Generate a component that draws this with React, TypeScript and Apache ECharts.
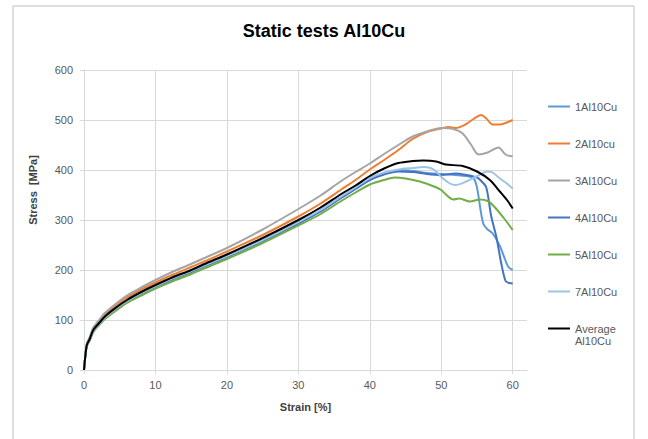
import React, { useEffect, useRef } from "react";
import * as echarts from "echarts";

// Strain [%] points shared by the early (hardening) part of every curve
const baseStrain = [0, 0.2, 0.4, 0.8, 1.3, 2, 3, 4.5, 6, 8, 10, 12.5, 15, 17.5, 20, 25, 30, 33, 36, 38, 40];

// Stress [MPa] on the early part
const s1Early = [0, 30, 49, 61, 78, 90, 105, 122, 137, 153, 167, 183, 197, 212, 227, 259, 295, 318, 346, 364, 383];
const s2Early = [0, 30, 52, 64, 83, 95, 112, 129, 145, 161, 175, 191, 206, 221, 237, 270, 307, 332, 361, 380, 401];
const s3Early = [0, 31, 53, 66, 85, 98, 115, 133, 149, 165, 180, 197, 212, 228, 244, 281, 322, 348, 378, 396, 413];
const s4Early = [0, 30, 49, 60, 77, 89, 104, 121, 136, 152, 166, 182, 196, 211, 226, 258, 293, 316, 344, 362, 380];
const s5Early = [0, 29, 48, 59, 76, 88, 103, 119, 134, 149, 163, 178, 192, 207, 222, 254, 289, 311, 338, 355, 371];
const s7Early = [0, 30, 49, 61, 78, 90, 106, 123, 138, 154, 168, 184, 198, 213, 228, 260, 296, 319, 347, 365, 384];
const avgEarly = [0, 30, 50, 62, 80, 92, 108, 125, 140, 156, 170, 186, 200, 216, 231, 264, 300, 324, 352, 369, 388];

// Late part (necking / fracture), strain and stress
const s1LateStrain = [42, 44, 46, 48, 50, 52, 53.5, 54.5, 55, 55.5, 55.9, 56.5, 57.2, 58.2, 58.8, 59.4, 60];
const s1LateStress = [393, 400, 398, 394, 392, 390, 388, 384, 365, 320, 292, 281, 273, 248, 226, 206, 200];

const s2LateStrain = [42, 44, 46, 48, 50, 51, 52, 53.5, 54.5, 55.6, 56.3, 57.2, 58.2, 59, 60];
const s2LateStress = [420, 440, 462, 476, 483, 486, 484, 492, 502, 510, 503, 491, 491, 494, 500];

const s3LateStrain = [42, 44, 46, 48, 50, 51.7, 53, 54.2, 55.2, 56.5, 58, 59, 60];
const s3LateStress = [432, 450, 467, 477, 484, 482, 473, 450, 431, 435, 445, 431, 427];

const s4LateStrain = [42, 44, 46, 48, 50, 52, 53.5, 55, 55.6, 56.3, 57, 57.7, 58.4, 59, 59.5, 60];
const s4LateStress = [391, 397, 396, 392, 390, 393, 390, 385, 378, 365, 307, 267, 213, 178, 174, 173];

const s5LateStrain = [42, 43.5, 45, 47, 49, 50, 50.5, 51.7, 52.5, 54, 55.4, 56.5, 57.4, 58.8, 60];
const s5LateStress = [380, 385, 383, 377, 367, 360, 353, 341, 343, 337, 341, 338, 327, 303, 280];

const s7LateStrain = [42, 44, 46, 47.5, 48.5, 49.3, 50, 51.2, 52, 53.5, 54.9, 56.5, 57.2, 58.2, 59, 60];
const s7LateStress = [395, 401, 404, 406, 404, 397, 386, 373, 370, 377, 387, 397, 395, 383, 375, 363];

const avgLateStrain = [42, 44, 46, 47.5, 49.3, 50.6, 53, 55, 56.8, 58.2, 59.2, 60];
const avgLateStress = [403, 414, 418, 419, 417, 411, 408, 397, 380, 357, 340, 323];

const seriesNames = ["1Al10Cu", "2Al10cu", "3Al10Cu", "4Al10Cu", "5Al10Cu", "7Al10Cu", "Average Al10Cu"];
const seriesColors = ["#5B9BD5", "#ED7D31", "#A5A5A5", "#4472C4", "#70AD47", "#9DC3E6", "#000000"];

const xTicks = { min: 0, max: 62, interval: 10 };
const yTicks = { min: 0, max: 600, interval: 100 };

function zip(xs: number[], ys: number[]): [number, number][] {
  return xs.map((x, i) => [x, ys[i]]);
}

const seriesData: [number, number][][] = [
  zip(baseStrain.concat(s1LateStrain), s1Early.concat(s1LateStress)),
  zip(baseStrain.concat(s2LateStrain), s2Early.concat(s2LateStress)),
  zip(baseStrain.concat(s3LateStrain), s3Early.concat(s3LateStress)),
  zip(baseStrain.concat(s4LateStrain), s4Early.concat(s4LateStress)),
  zip(baseStrain.concat(s5LateStrain), s5Early.concat(s5LateStress)),
  zip(baseStrain.concat(s7LateStrain), s7Early.concat(s7LateStress)),
  zip(baseStrain.concat(avgLateStrain), avgEarly.concat(avgLateStress)),
];

const FONT = "'Liberation Sans', Arial, sans-serif";

export default function App() {
  const ref = useRef<HTMLDivElement>(null);
  useEffect(() => {
    if (!ref.current) return;
    const chart = echarts.init(ref.current, undefined, { renderer: "svg" });
    chart.setOption({
      animation: false,
      backgroundColor: "#ffffff",
      title: {
        text: "Static tests Al10Cu",
        left: "center",
        top: 22,
        padding: 0,
        textStyle: { fontFamily: FONT, fontSize: 18, fontWeight: "bold", color: "#000000" },
      },
      graphic: [
        {
          type: "rect",
          shape: { x: 13, y: 6, width: 621, height: 460 },
          style: { fill: "none", stroke: "#BFBFBF", lineWidth: 1 },
          silent: true,
        },
        {
          type: "text",
          x: 33,
          y: 190,
          rotation: Math.PI / 2,
          style: {
            text: "Stress  [MPa]",
            align: "center",
            verticalAlign: "middle",
            fontFamily: FONT,
            fontSize: 11,
            fontWeight: "bold",
            fill: "#404040",
          },
        },
        {
          type: "text",
          x: 575,
          y: 341,
          style: {
            text: "Al10Cu",
            align: "left",
            verticalAlign: "middle",
            fontFamily: FONT,
            fontSize: 11,
            fill: "#595959",
          },
        },
      ],
      legend: {
        orient: "vertical",
        left: 548,
        top: 100,
        padding: 0,
        icon: "rect",
        itemWidth: 22,
        itemHeight: 2,
        itemGap: 24,
        textStyle: { fontFamily: FONT, fontSize: 11, color: "#595959", lineHeight: 13 },
        formatter: (name: string) => (name === "Average Al10Cu" ? "Average" : name),
        data: seriesNames,
      },
      grid: { left: 84, right: 121, top: 70, bottom: 69, containLabel: false },
      xAxis: {
        type: "value",
        min: xTicks.min,
        max: xTicks.max,
        interval: xTicks.interval,
        name: "Strain [%]",
        nameLocation: "middle",
        nameGap: 31,
        nameTextStyle: { fontFamily: FONT, fontSize: 11, fontWeight: "bold", color: "#404040" },
        axisLine: { show: true, lineStyle: { color: "#D9D9D9" } },
        axisTick: { show: true, length: 4, lineStyle: { color: "#D9D9D9" } },
        axisLabel: { fontFamily: FONT, fontSize: 11, color: "#595959", margin: 9, showMaxLabel: false },
        splitLine: { show: true, showMaxLine: false, lineStyle: { color: "#D9D9D9" } },
      },
      yAxis: {
        type: "value",
        min: yTicks.min,
        max: yTicks.max,
        interval: yTicks.interval,
        axisLine: { show: true, lineStyle: { color: "#D9D9D9" } },
        axisTick: { show: true, length: 4, lineStyle: { color: "#D9D9D9" } },
        axisLabel: { fontFamily: FONT, fontSize: 11, color: "#595959", margin: 11 },
        splitLine: { show: true, lineStyle: { color: "#D9D9D9" } },
      },
      series: seriesNames.map((name, i) => ({
        name,
        type: "line",
        data: seriesData[i],
        showSymbol: false,
        symbol: "none",
        smooth: 0.3,
        lineStyle: { color: seriesColors[i], width: 2 },
        itemStyle: { color: seriesColors[i] },
      })),
    });
    return () => chart.dispose();
  }, []);
  return (
    <div
      ref={ref}
      style={{ position: "fixed", left: 0, top: 0, width: 648, height: 439, background: "#fff" }}
    />
  );
}
